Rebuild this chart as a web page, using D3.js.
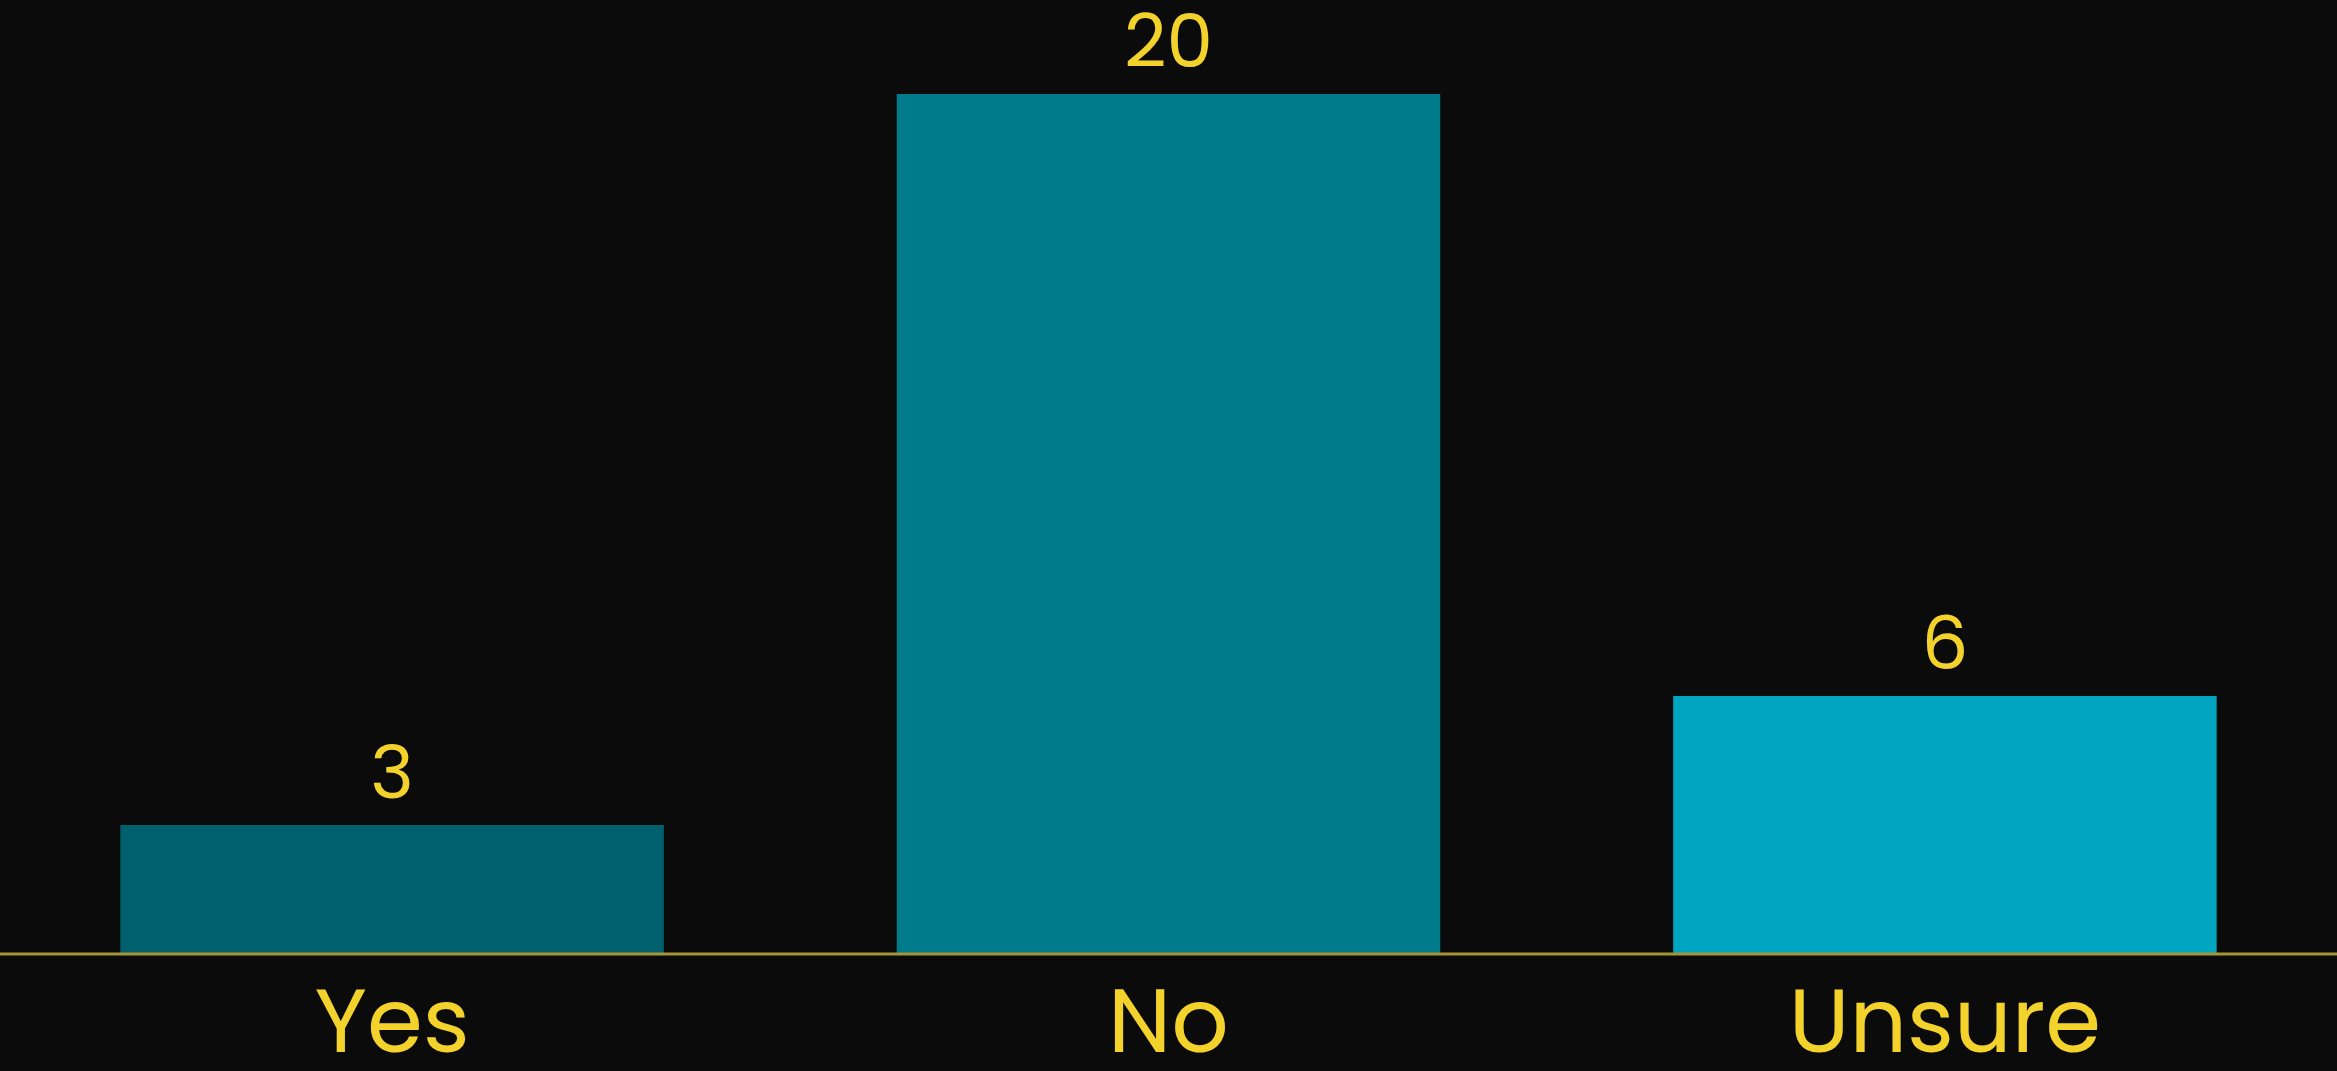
<!DOCTYPE html>
<html>
<head>
<meta charset="utf-8">
<script src="https://cdn.jsdelivr.net/npm/d3@7"></script>
<style>
  html, body { margin: 0; padding: 0; background: #0b0b0b; overflow: hidden; }
  svg { display: block; }
</style>
</head>
<body>
<svg id="chart"></svg>
<script>
var categories = ['Yes', 'No', 'Unsure'];
var values = [3, 20, 6];
var barColors = ['#00606d', '#007b8b', '#00a6c1'];

(function(){
	var W = 2337, H = 1071;
	var baseY = 954, topY = 94;
	var svg = d3.select('#chart').attr('width', W).attr('height', H);

	svg.append('rect').attr('width', W).attr('height', H).attr('fill', '#0b0b0b');

	var x = d3.scaleBand()
		.domain(categories)
		.range([0, W])
		.paddingInner(0.3)
		.paddingOuter(0.155);

	var y = d3.scaleLinear()
		.domain([0, d3.max(values)])
		.range([baseY, topY]);

	// bars
	svg.selectAll('rect.bar')
		.data(values)
		.enter().append('rect')
		.attr('class', 'bar')
		.attr('x', function(d, i){ return x(categories[i]); })
		.attr('y', function(d){ return y(d); })
		.attr('width', x.bandwidth())
		.attr('height', function(d){ return baseY - y(d); })
		.attr('fill', function(d, i){ return barColors[i]; });

	// value labels
	svg.selectAll('text.val')
		.data(values)
		.enter().append('text')
		.attr('class', 'val')
		.attr('x', function(d, i){ return x(categories[i]) + x.bandwidth()/2; })
		.attr('y', function(d){ return y(d) - 27; })
		.attr('text-anchor', 'middle')
		.attr('fill', '#f3d22c')
		.style('font-family', 'Poppins, Lato, "Noto Sans", sans-serif')
		.style('font-size', '74px')
		.text(function(d){ return d; });

	// x axis
	var axis = svg.append('g')
		.attr('transform', 'translate(0,' + baseY + ')')
		.call(d3.axisBottom(x).tickSize(0));
	axis.select('.domain')
		.attr('stroke', '#a49538')
		.attr('stroke-width', 3)
		.attr('d', 'M0,0H' + W);
	axis.selectAll('.tick text')
		.attr('y', 98)
		.attr('dy', 0)
		.attr('fill', '#f3d22c')
		.style('font-family', 'Poppins, Lato, "Noto Sans", sans-serif')
		.style('font-size', '90px');
}());
</script>
</body>
</html>
